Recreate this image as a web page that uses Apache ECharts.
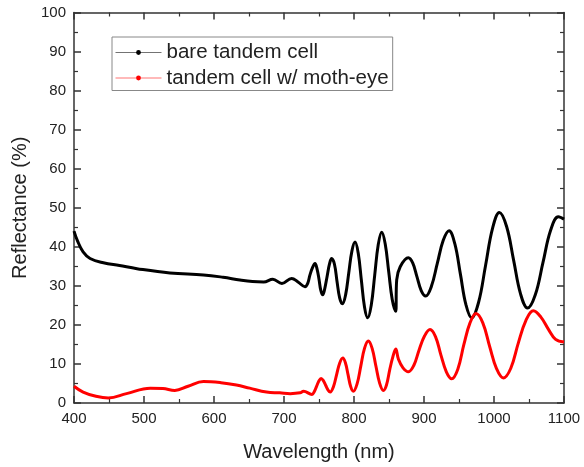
<!DOCTYPE html>
<html>
<head>
<meta charset="utf-8">
<script src="https://cdn.jsdelivr.net/npm/echarts@6/dist/echarts.min.js"></script>
<style>
  html, body { margin: 0; padding: 0; background: #fff; }
  #chart { width: 584px; height: 467px; }
</style>
</head>
<body>
<div id="chart"></div>
<script>
// Reflectance spectra (wavelength in nm, reflectance in %)
const bareWavelength = [
  400, 405, 413, 423, 442, 465, 490, 537, 585, 613, 637, 655, 671, 684, 697, 711, 720,
  730, 734, 737, 741, 744.3, 747, 750, 752.5, 755.3, 758, 761.5, 765, 768, 772, 775.7, 779.5,
  783.4, 788, 792.5, 797, 801.5, 806, 810.5, 815, 819.6, 824.6, 829.6, 834.6, 839.6, 844.6,
  849.6, 854.6, 859.5, 861, 866, 877.7, 884, 890, 896, 902.4, 910.5, 919, 927.5, 935.8, 944,
  952, 960, 968, 978, 988, 998, 1007.7, 1018, 1028, 1038, 1048, 1059, 1070, 1081, 1092, 1100
];
const bareReflectance = [
  44.0, 41.5, 38.7, 37.0, 35.9, 35.2, 34.4, 33.3, 32.8, 32.2, 31.5, 31.1, 31.0, 31.7, 30.6, 31.9, 31.0,
  29.8, 30.7, 32.75, 34.8, 35.7, 34.5, 31.7, 28.9, 27.7, 29.1, 32.35, 35.6, 37.0, 35.6, 31.2, 26.9,
  25.4, 27.7, 33.3, 38.9, 41.2, 38.4, 31.5, 24.6, 21.8, 25.0, 32.75, 40.5, 43.7, 40.7,
  33.6, 26.5, 23.5, 31.5, 34.9, 37.2, 35.8, 32.3, 28.8, 27.4, 29.85, 35.75, 41.65, 44.1, 40.8,
  33.0, 25.1, 21.8, 25.8, 35.3, 44.8, 48.8, 45.2, 36.6, 27.9, 24.3, 27.7, 36.0, 44.3, 47.7, 47.1
];

const mothWavelength = [
  400, 413, 430, 449, 475, 509, 527, 544, 563, 585, 610, 632, 651, 675, 694, 709, 723, 728,
  740, 743, 746.5, 750, 753, 756, 759.5, 763, 766, 770.5, 775, 779.5, 784, 787.7, 791.5, 795.3,
  799, 804.4, 809.7, 815, 820.5, 825.9, 831.2, 836.6, 842, 846.4, 851, 855.5, 859.6, 863.5, 870,
  877.7, 885.4, 893, 900.9, 908.6, 916.4, 924, 931.9, 939.6, 948.3, 957, 965.6, 974.3, 984,
  993.9, 1003.6, 1013.4, 1024, 1034.8, 1045.5, 1056.2, 1067, 1078, 1088, 1100
];
const mothReflectance = [
  4.3, 2.8, 1.8, 1.3, 2.4, 3.8, 3.7, 3.2, 4.3, 5.5, 5.2, 4.6, 3.8, 2.8, 2.6, 2.4, 2.6, 3.0,
  2.2, 2.8, 4.25, 5.7, 6.3, 5.8, 4.55, 3.3, 2.8, 4.1, 7.15, 10.2, 11.5, 10.3, 7.25, 4.2,
  3.0, 4.9, 9.45, 14.0, 15.9, 14.0, 9.55, 5.1, 3.2, 4.6, 8.5, 11.8, 13.8, 11.2, 9.0,
  8.0, 9.6, 13.6, 17.2, 18.8, 17.0, 12.4, 8.0, 6.2, 8.65, 15.0, 20.45, 22.9, 20.5,
  14.4, 8.8, 6.4, 8.9, 15.4, 21.1, 23.6, 22.0, 18.8, 16.3, 15.6
];

const seriesNames = ['bare tandem cell', 'tandem cell w/ moth-eye'];
const xTicks = { min: 400, max: 1100, interval: 100 };
const yTicks = { min: 0, max: 100, interval: 10 };

const pairs = (xs, ys) => xs.map((x, i) => [x, ys[i]]);

const FONT = 'Liberation Sans, Arial, sans-serif';
const axisColor = '#333';

function frameAxis(pos, range, withLabels, name) {
  return {
    type: 'value',
    position: pos,
    min: range.min, max: range.max, interval: range.interval,
    name: name || '',
    axisLine: { show: true, onZero: false, lineStyle: { color: axisColor, width: 1.5 } },
    axisTick: { show: true, inside: true, length: 7, lineStyle: { color: axisColor, width: 1.5 } },
    minorTick: { show: true, splitNumber: 2, length: 4, lineStyle: { color: axisColor, width: 1.2 } },
    splitLine: { show: false },
    axisLabel: {
      show: withLabels, color: '#222', fontFamily: FONT, fontSize: 15, margin: 8,
      formatter: v => String(v)
    }
  };
}

const xBottom = frameAxis('bottom', xTicks, true, 'Wavelength (nm)');
xBottom.nameLocation = 'middle';
xBottom.nameGap = 39;
xBottom.nameTextStyle = { fontFamily: FONT, fontSize: 20, color: '#222' };
const xTop = frameAxis('top', xTicks, false);
const yLeft = frameAxis('left', yTicks, true, 'Reflectance (%)');
yLeft.nameLocation = 'middle';
yLeft.nameGap = 37;
yLeft.nameTextStyle = { fontFamily: FONT, fontSize: 20, color: '#222' };
const yRight = frameAxis('right', yTicks, false);

const chart = echarts.init(document.getElementById('chart'), null, { renderer: 'canvas' });
chart.setOption({
  animation: false,
  backgroundColor: '#fff',
  grid: { left: 74, right: 20, top: 12.5, bottom: 59.3, containLabel: false },
  xAxis: [xBottom, xTop],
  yAxis: [yLeft, yRight],
  legend: {
    orient: 'vertical',
    left: 112, top: 37,
    data: seriesNames,
    itemWidth: 46, itemHeight: 6, itemGap: 4.5,
    padding: [5, 4, 2, 3],
    borderColor: '#888', borderWidth: 1, backgroundColor: '#fff',
    lineStyle: { width: 1, opacity: 0.55 },
    textStyle: { fontFamily: FONT, fontSize: 20.5, color: '#222' }
  },
  series: [
    {
      name: seriesNames[0], type: 'line', xAxisIndex: 0, yAxisIndex: 0,
      data: pairs(bareWavelength, bareReflectance),
      smooth: 0.4, symbol: 'circle', symbolSize: 4, showSymbol: false,
      color: '#000', lineStyle: { color: '#000', width: 3 }
    },
    {
      name: seriesNames[1], type: 'line', xAxisIndex: 0, yAxisIndex: 0,
      data: pairs(mothWavelength, mothReflectance),
      smooth: 0.4, symbol: 'circle', symbolSize: 4, showSymbol: false,
      color: '#ff0000', lineStyle: { color: '#ff0000', width: 3 }
    }
  ]
});
</script>
</body>
</html>
